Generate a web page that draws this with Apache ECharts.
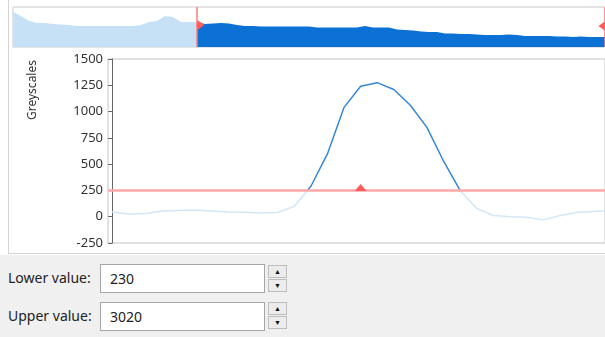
<!DOCTYPE html>
<html>
<head>
<meta charset="utf-8">
<script src="https://cdn.jsdelivr.net/npm/echarts@6/dist/echarts.min.js"></script>
<style>
    body { margin: 0; width: 605px; height: 337px; background: #fff; font-family: "Noto Sans", sans-serif; overflow: hidden; position: relative; }
    #panel { position: absolute; left: 8px; top: 0; width: 597px; height: 253px; border-left: 1px solid #d4d4d4; border-bottom: 1px solid #d4d4d4; }
    #chart { position: absolute; left: 0; top: 0; width: 605px; height: 254px; }
    #form { position: absolute; left: 0; top: 255px; width: 605px; height: 82px; background: #f0f0f0; }
    .lbl { position: absolute; left: 8px; font-size: 14px; color: #222; }
    .box { position: absolute; left: 100px; width: 163px; height: 27px; border: 1px solid #a6a6a6; background: #fff; font-size: 14px; color: #222; line-height: 27px; text-indent: 9px; }
    .spin { position: absolute; left: 268px; width: 17px; height: 11px; border: 1px solid #bdbdbd; background: #ececec; font-size: 7px; line-height: 11px; text-align: center; color: #111; }
</style>
</head>
<body>
<div id="panel"></div>
<div id="chart"></div>
<div id="form">
    <div class="lbl" style="top:13px">Lower value:</div>
    <div class="box" style="top:9px">230</div>
    <div class="spin" style="top:10px">▲</div>
    <div class="spin" style="top:24px">▼</div>
    <div class="lbl" style="top:51px">Upper value:</div>
    <div class="box" style="top:47px">3020</div>
    <div class="spin" style="top:47px">▲</div>
    <div class="spin" style="top:61px">▼</div>
</div>
<script>
    // profile along the line (greyscale per sample)
    var profile = [45, 25, 30, 55, 60, 64, 55, 45, 42, 35, 40, 100, 290, 600, 1040, 1240,
        1275, 1210, 1060, 850, 530, 250, 80, 12, 0, -5, -30, 10, 40, 50, 58];
    var lowerLine = 250;
    var markerIndex = 15;

    // histogram overview (counts per bin)
    var histCounts = [35, 31, 26, 24, 24, 23, 22.5, 22, 21, 21, 21, 21, 21, 21, 21, 21, 22, 25, 26, 31,
        30, 25, 25, 25, 23, 23.5, 24, 23.5, 22, 21, 21, 20.5, 20.5, 20.5, 20.5, 20.5, 20.5, 20.5,
        19.5, 19.5, 19.5, 19.5, 19.5, 19.5, 21, 19.5, 19.5, 19.5, 17.5, 17, 16.5, 15.5, 15, 15,
        13.5, 13.5, 13, 13, 12.5, 12, 12, 12, 12.5, 12, 11, 11, 11, 11, 10.5, 10.5, 10, 10.5, 10, 10, 10];
    var histLower = 23;
    var histUpper = 74;

    var lightHist = '#c6e0f5', darkHist = '#0b71d5';
    var lightLine = '#d2e6f8', darkLine = '#3487d8';

    var chart = echarts.init(document.getElementById('chart'));

    var histCats = histCounts.map(function (v, i) { return i; });
    var profData = profile.map(function (v, i) { return [i, v]; });

    chart.setOption({
        animation: false,
        grid: [
            { left: 13, top: 7, width: 592, height: 40, show: true, borderColor: '#c9c9c9', borderWidth: 1, backgroundColor: '#fff' },
            { left: 108, top: 59, width: 497, height: 184, show: true, borderColor: '#c4c4c4', borderWidth: 1 }
        ],
        xAxis: [
            { gridIndex: 0, type: 'category', data: histCats, boundaryGap: false, show: false },
            { gridIndex: 1, type: 'value', min: -0.25, max: profile.length - 1.25, show: false }
        ],
        yAxis: [
            { gridIndex: 0, type: 'value', min: 0, max: 40, show: false },
            {
                gridIndex: 1, type: 'value', min: -250, max: 1500, interval: 250,
                axisLine: { show: true, lineStyle: { color: '#666' } },
                axisTick: { show: true, length: 4, lineStyle: { color: '#666' } },
                axisLabel: {
                    color: '#333', fontSize: 13, margin: 5, fontFamily: 'Noto Sans',
                    formatter: function (v) { return String(v); }
                },
                splitLine: { show: false }
            }
        ],
        graphic: [{
            type: 'text', x: 33, y: 90, rotation: Math.PI / 2,
            style: { text: 'Greyscales', fill: '#333', fontSize: 12, fontFamily: 'Noto Sans', align: 'center', verticalAlign: 'middle' }
        }],
        series: [
            {
                type: 'line', xAxisIndex: 0, yAxisIndex: 0, data: histCounts,
                symbol: 'none', lineStyle: { width: 0 }, areaStyle: { opacity: 1, color: darkHist },
                markLine: {
                    silent: true, symbol: 'none', label: { show: false },
                    lineStyle: { color: '#ff7b7b', width: 1.5, type: 'solid' },
                    data: [{ xAxis: histLower }, { xAxis: histUpper }]
                },
                markPoint: {
                    silent: true, label: { show: false },
                    itemStyle: { color: '#ff5c5c' },
                    data: [
                        { coord: [histLower, 22], symbol: 'triangle', symbolSize: [10, 7], symbolRotate: -90, symbolOffset: [4, 0] },
                        { coord: [histUpper, 21], symbol: 'triangle', symbolSize: [10, 7], symbolRotate: 90, symbolOffset: [-3, 0] }
                    ]
                }
            },
            {
                type: 'line', xAxisIndex: 1, yAxisIndex: 1, data: profData,
                symbol: 'none', lineStyle: { width: 1.5, color: darkLine },
                markLine: {
                    silent: true, symbol: 'none', label: { show: false },
                    lineStyle: { color: '#ffa8a8', width: 2.5, type: 'solid', opacity: 1 },
                    data: [{ yAxis: lowerLine }]
                },
                markPoint: {
                    silent: true, label: { show: false },
                    itemStyle: { color: '#ff5c5c' },
                    data: [{ coord: [markerIndex, lowerLine], symbol: 'triangle', symbolSize: [12, 7], symbolOffset: [0, -3] }]
                }
            }
        ]
    });

    // split colours at the selected range, positions taken from the chart's own scales
    var W = chart.getWidth(), H = chart.getHeight();
    var xs = chart.convertToPixel({ xAxisIndex: 0 }, histLower) / W;
    var ys = chart.convertToPixel({ yAxisIndex: 1 }, lowerLine) / H;

    chart.setOption({
        series: [
            {
                areaStyle: {
                    color: new echarts.graphic.LinearGradient(0, 0, W, 0, [
                        { offset: 0, color: lightHist }, { offset: xs, color: lightHist },
                        { offset: xs, color: darkHist }, { offset: 1, color: darkHist }
                    ], true)
                }
            },
            {
                lineStyle: {
                    color: new echarts.graphic.LinearGradient(0, 0, 0, H, [
                        { offset: 0, color: darkLine }, { offset: ys, color: darkLine },
                        { offset: ys, color: lightLine }, { offset: 1, color: lightLine }
                    ], true)
                }
            }
        ]
    });
</script>
</body>
</html>
